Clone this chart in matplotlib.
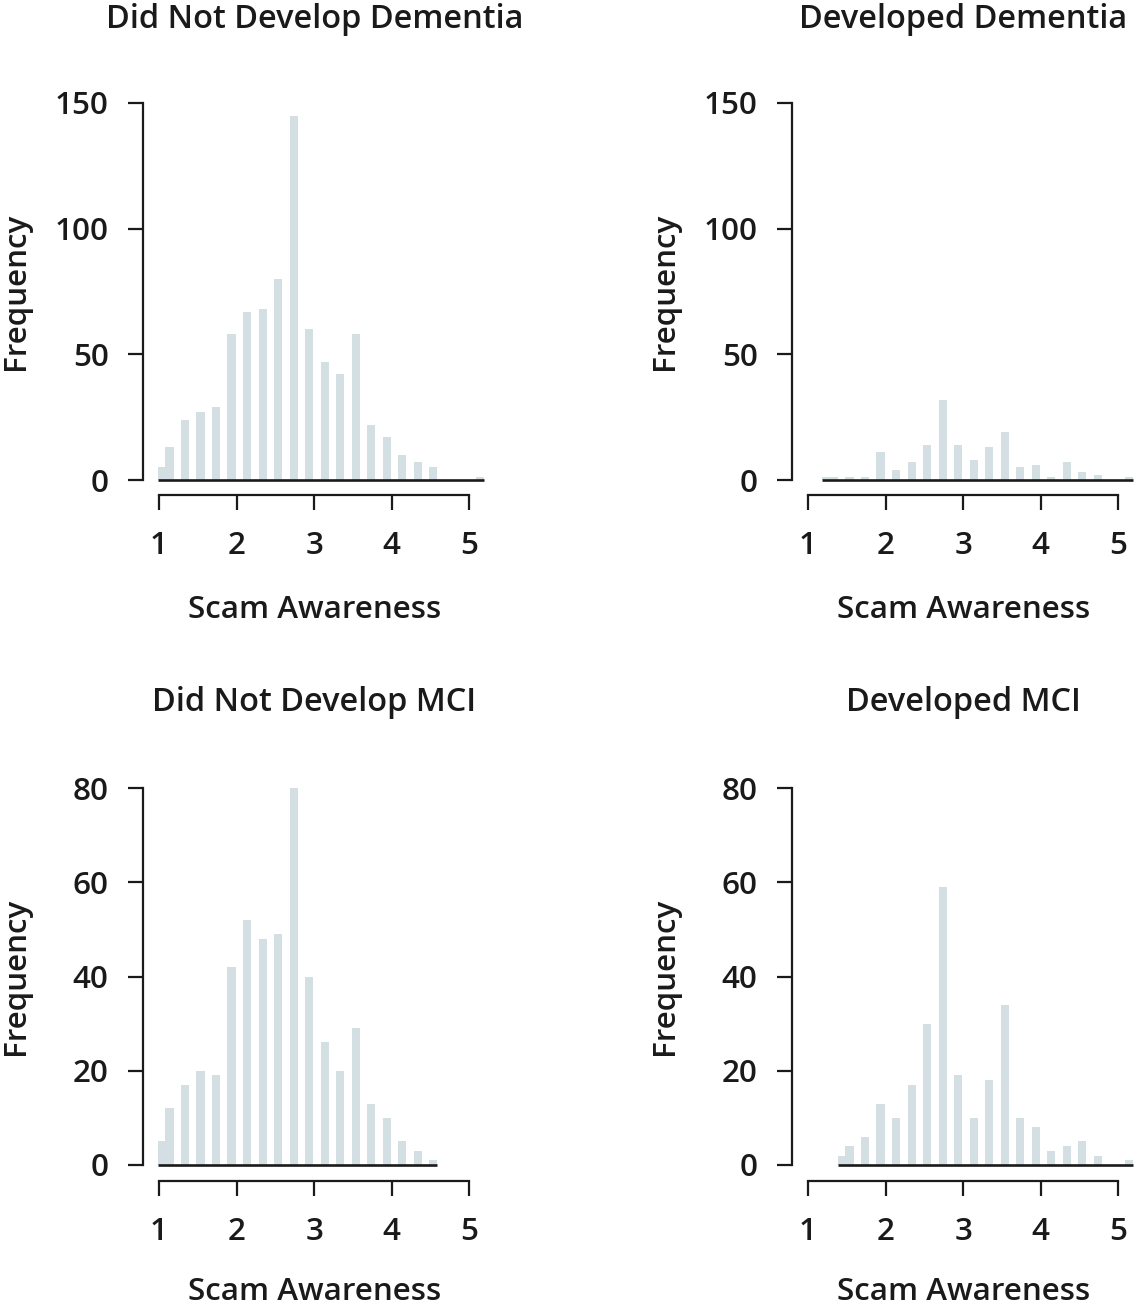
import matplotlib.pyplot as plt

plt.rcParams['font.family'] = ['Open Sans', 'DejaVu Sans']

W, H = 1136, 1305
bar_color = '#d3dfe2'
ink = '#1a1a1a'
bar_w = 0.105

# bar positions (scam awareness values) and counts
dem_no_x = [1.035, 1.135, 1.335, 1.535, 1.735, 1.935, 2.135, 2.335, 2.535, 2.735,
            2.935, 3.135, 3.335, 3.535, 3.735, 3.935, 4.135, 4.335, 4.535, 5.135]
dem_no_y = [5, 13, 24, 27, 29, 58, 67, 68, 80, 145,
            60, 47, 42, 58, 22, 17, 10, 7, 5, 1]

dem_yes_x = [1.235, 1.335, 1.535, 1.735, 1.935, 2.135, 2.335, 2.535, 2.735, 2.935,
             3.135, 3.335, 3.535, 3.735, 3.935, 4.135, 4.335, 4.535, 4.735, 5.135]
dem_yes_y = [1, 1, 1, 1, 11, 4, 7, 14, 32, 14,
             8, 13, 19, 5, 6, 1, 7, 3, 2, 1]

mci_no_x = [1.035, 1.135, 1.335, 1.535, 1.735, 1.935, 2.135, 2.335, 2.535, 2.735,
            2.935, 3.135, 3.335, 3.535, 3.735, 3.935, 4.135, 4.335, 4.535]
mci_no_y = [5, 12, 17, 20, 19, 42, 52, 48, 49, 80,
            40, 26, 20, 29, 13, 10, 5, 3, 1]

mci_yes_x = [1.435, 1.535, 1.735, 1.935, 2.135, 2.335, 2.535, 2.735, 2.935, 3.135,
             3.335, 3.535, 3.735, 3.935, 4.135, 4.335, 4.535, 4.735, 5.135]
mci_yes_y = [2, 4, 6, 13, 10, 17, 30, 59, 19, 10,
             18, 34, 10, 8, 3, 4, 5, 2, 1]

titles = ['Did Not Develop Dementia', 'Developed Dementia',
          'Did Not Develop MCI', 'Developed MCI']
xticks = [1, 2, 3, 4, 5]
yticks_top = [0, 50, 100, 150]
yticks_bot = [0, 20, 40, 60, 80]

fig = plt.figure(figsize=(W / 100, H / 100), dpi=100)

px_per_unit = 77.6
# (x, y, pixel of x=1, top px, bottom px, y ticks, x-axis offset px, title baseline, xlabel baseline)
panels = [
    (dem_no_x, dem_no_y, 159, 103, 480, yticks_top, 15, 28, 618),
    (dem_yes_x, dem_yes_y, 808, 103, 480, yticks_top, 15, 28, 618),
    (mci_no_x, mci_no_y, 159, 788, 1165, yticks_bot, 16, 711, 1300),
    (mci_yes_x, mci_yes_y, 808, 788, 1165, yticks_bot, 16, 711, 1300),
]

fs = 22.6
fs_title = 23.4
fw = 600
for i, (xs, ys, x_one, top, bottom, yt, off, title_base, xlab_base) in enumerate(panels):
    xlo, xhi = 0.95, 5.22
    left = x_one + (xlo - 1) * px_per_unit
    right = x_one + (xhi - 1) * px_per_unit
    ax = fig.add_axes([left / W, 1 - bottom / H, (right - left) / W, (bottom - top) / H])
    ax.bar(xs, ys, width=bar_w, color=bar_color, linewidth=0, zorder=2)
    lo = min(xs) - bar_w / 2
    hi = max(xs) + bar_w / 2
    ax.hlines(0, lo, hi, color=ink, linewidth=1.9, zorder=3, clip_on=False)
    ax.set_xlim(xlo, xhi)
    ax.set_ylim(0, yt[-1])
    for s in ('top', 'right'):
        ax.spines[s].set_visible(False)
    ax.spines['left'].set_position(('outward', 8.6))
    ax.spines['bottom'].set_position(('outward', off * 0.72))
    ax.spines['left'].set_bounds(yt[0], yt[-1])
    ax.spines['bottom'].set_bounds(1, 5)
    for s in ('left', 'bottom'):
        ax.spines[s].set_linewidth(1.6)
        ax.spines[s].set_color(ink)
    ax.set_xticks(xticks)
    ax.set_yticks(yt)
    ax.tick_params(axis='both', length=10.8, width=1.6, color=ink,
                   labelsize=fs, labelcolor=ink)
    ax.tick_params(axis='x', pad=15)
    ax.tick_params(axis='y', pad=14)
    for lab in ax.get_xticklabels() + ax.get_yticklabels():
        lab.set_fontweight(fw)
    ax.set_facecolor('none')

    cx = (x_one + x_one + 4 * px_per_unit) / 2
    fig.text(cx / W, 1 - title_base / H, titles[i], ha='center', va='baseline',
             fontsize=fs_title, color=ink, fontweight=fw)
    fig.text(cx / W, 1 - xlab_base / H, 'Scam Awareness', ha='center', va='baseline',
             fontsize=fs, color=ink, fontweight=fw)
    fig.text((x_one - 143) / W, 1 - (top + bottom) / 2 / H, 'Frequency', rotation=90,
             ha='center', va='center', fontsize=fs, color=ink, fontweight=fw)

fig.savefig('out.png', dpi=100)
